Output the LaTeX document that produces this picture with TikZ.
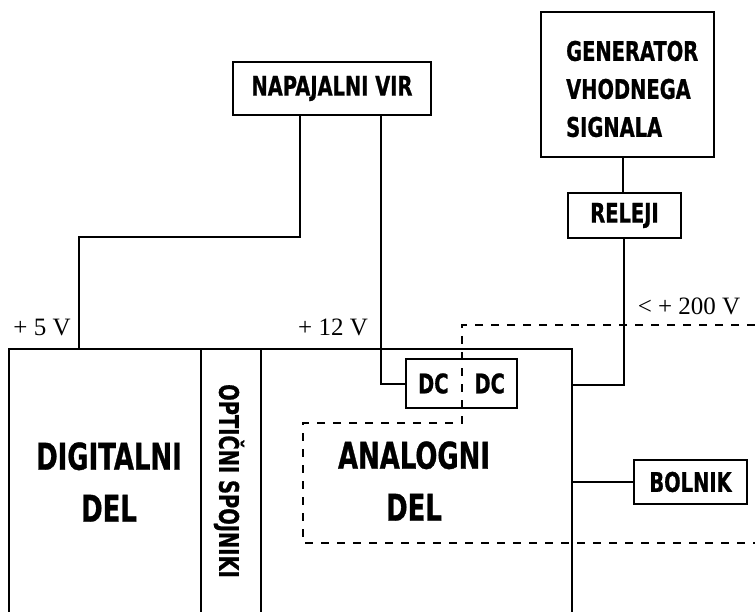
\documentclass[tikz,border=0pt]{standalone}
\usepackage{fontspec}
\newfontfamily\blk[FakeStretch=0.7,FakeBold=0.8]{DejaVu Sans Bold}
\newfontfamily\blks[FakeStretch=0.72,FakeBold=0.8]{DejaVu Sans Bold}
\newfontfamily\ser{Liberation Serif}
\tikzset{
  box/.style={draw, line width=1.5pt, inner sep=0pt, font=\blks\fontsize{27}{38}\selectfont},
  big/.style={inner sep=0pt, align=center, font=\blk\fontsize{37}{52}\selectfont},
  mid/.style={inner sep=0pt, font=\blks\fontsize{27}{38}\selectfont},
  volt/.style={inner sep=0pt, anchor=base, font=\ser\fontsize{25}{30}\selectfont},
  wire/.style={line width=1.5pt},
  iso/.style={line width=1.5pt, dash pattern=on 8pt off 8pt}
}
\begin{document}
\begin{tikzpicture}[x=1pt,y=-1pt]
\useasboundingbox (0,0) rectangle (755,612);
% boxes
\node[box, minimum width=198pt, minimum height=53pt] (nap) at (332,88.5) {NAPAJALNI VIR};
\node[box, minimum width=173pt, minimum height=145pt] (gen) at (627.5,84.5) {};
\node[mid, align=left, anchor=west] (gentxt) at (566,89) {GENERATOR\\VHODNEGA\\SIGNALA};
\node[box, minimum width=113pt, minimum height=45pt] (rel) at (624.5,215.5) {RELEJI};
\node[box, minimum width=111pt, minimum height=49pt] (dc) at (461.5,383.5) {DC\hspace{26pt}DC};
\node[box, minimum width=113pt, minimum height=44pt] (bol) at (690.5,482) {BOLNIK};
% main blocks
\coordinate (tl) at (9,349);
\coordinate (tr) at (572,349);
\draw[wire] (9,612) -- (tl) -- (tr) -- (572,612);
\draw[wire] (201,349) -- (201,612);
\draw[wire] (261,349) -- (261,612);
\node[big] (dig) at (109,482) {DIGITALNI\\DEL};
\node[big] (ana) at (414,481) {ANALOGNI\\DEL};
\node[mid, rotate=-90] (opt) at (229,481) {OPTIČNI SPOJNIKI};
% connectors
\coordinate (d5) at (79,349);
\coordinate (a12) at (572,385);
\coordinate (ab) at (572,482);
\draw[wire] (nap.south -| 300,0) -- (300,237) -- (79,237) -- (d5);
\draw[wire] (nap.south -| 381,0) -- (381,384) -- (dc.west |- 0,384);
\draw[wire] (gen.south -| 623,0) -- (rel.north -| 623,0);
\draw[wire] (rel.south -| 624,0) -- (624,385) -- (a12);
\draw[wire] (bol.west) -- (ab);
% isolation boundary
\draw[iso] (755,325) -- (462,325) -- (462,423) -- (303,423) -- (303,543) -- (755,543);
% voltage labels
\node[volt] (v5) at (42,335) {+ 5 V};
\node[volt] (v12) at (333,335) {+ 12 V};
\node[volt] (v200) at (689,315) {< + 200 V};
\end{tikzpicture}
\end{document}
